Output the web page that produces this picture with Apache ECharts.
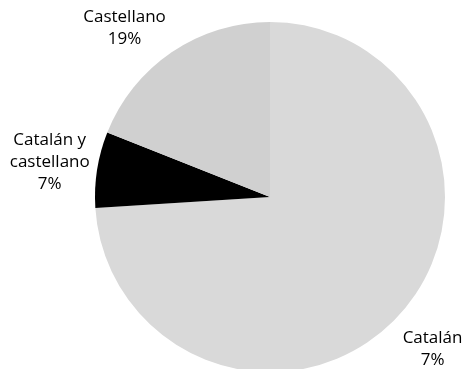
<!DOCTYPE html>
<html>
<head>
<meta charset="utf-8">
<script src="https://cdn.jsdelivr.net/npm/echarts@6/dist/echarts.min.js"></script>
<style>
  html, body { margin: 0; padding: 0; background: #ffffff; }
  #chart { width: 471px; height: 369px; }
</style>
</head>
<body>
<div id="chart"></div>
<script>
// Language use shares (slice sizes, percent)
const categories = ['Catalán', 'Catalán y castellano', 'Castellano'];
const shares = [74, 7, 19];
// Percent text printed under each category name
const shareLabels = ['7%', '7%', '19%'];
const labelNames = ['Catalán', 'Catalán y\ncastellano', 'Castellano'];

const colors = ['#d9d9d9', '#000000', '#d0d0d0'];
const CX = 270, CY = 197, R = 175;
const LABEL_DIST = 223;   // distance of label centres from the pie centre
const TOP_MARGIN = 6;

const total = shares.reduce((a, b) => a + b, 0);
function midAngle(i) {
  let before = 0;
  for (let k = 0; k < i; k++) before += shares[k];
  const frac = (before + shares[i] / 2) / total;
  return frac * Math.PI * 2; // clockwise from 12 o'clock
}

const chart = echarts.init(document.getElementById('chart'), null, { renderer: 'canvas' });
chart.setOption({
  animation: false,
  series: [{
    type: 'pie',
    center: [CX, CY],
    radius: [0, R],
    startAngle: 90,
    clockwise: true,
    avoidLabelOverlap: false,
    itemStyle: { borderWidth: 0 },
    emphasis: { disabled: true },
    label: {
      show: true,
      position: 'outside',
      formatter: p => labelNames[p.dataIndex] + '\n' + shareLabels[p.dataIndex],
      fontFamily: 'Open Sans',
      fontSize: 17,
      lineHeight: 22,
      color: '#000000',
      align: 'center'
    },
    labelLine: { show: false },
    labelLayout: function (params) {
      const a = midAngle(params.dataIndex);
      const h = params.labelRect.height;
      let dx = Math.sin(a) * LABEL_DIST;
      let dy = -Math.cos(a) * LABEL_DIST;
      // keep the label inside the top edge by sliding it along the circle
      const minY = TOP_MARGIN + h / 2;
      if (CY + dy < minY) {
        dy = minY - CY;
        dx = Math.sign(dx) * Math.sqrt(Math.max(0, LABEL_DIST * LABEL_DIST - dy * dy));
      }
      return { x: CX + dx, y: CY + dy, align: 'center', verticalAlign: 'middle' };
    },
    data: categories.map((c, i) => ({
      name: c,
      value: shares[i],
      itemStyle: { color: colors[i] }
    }))
  }]
});
</script>
</body>
</html>
